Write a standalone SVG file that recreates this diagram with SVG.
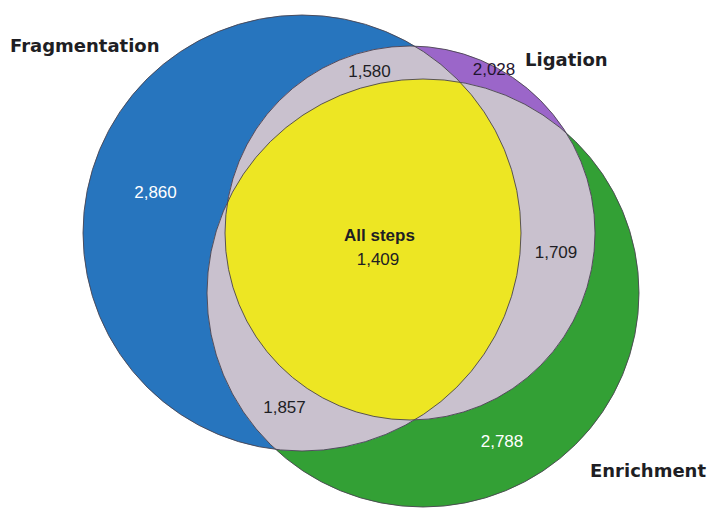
<svg xmlns="http://www.w3.org/2000/svg" width="708" height="510" viewBox="0 0 708 510">
<style>
.ol{fill:none;stroke:#4a4450;stroke-width:0.9}
.lab{font-family:"DejaVu Sans",sans-serif;font-weight:bold;font-size:18px;fill:#1e1e24}
.num{font-family:"Liberation Sans",Arial,sans-serif;font-size:17px;text-anchor:middle;fill:#1e1e24}
.w{fill:#ffffff}
.gray{fill:#c9c1ce}
</style>
<defs>
<clipPath id="cF"><ellipse cx="302" cy="233" rx="219" ry="218"/></clipPath>
<clipPath id="cL"><ellipse cx="410" cy="233" rx="185" ry="187"/></clipPath>
<clipPath id="cE"><ellipse cx="423" cy="293" rx="216" ry="214"/></clipPath>
</defs>
<rect width="708" height="510" fill="#ffffff"/>
<g id="enrichment"><ellipse cx="423" cy="293" rx="216" ry="214" fill="#33a035"/></g>
<g id="fragmentation"><ellipse cx="302" cy="233" rx="219" ry="218" fill="#2775be"/></g>
<g id="ligation"><ellipse cx="410" cy="233" rx="185" ry="187" fill="#9b66c9"/></g>
<g id="overlaps">
<ellipse class="gray" cx="410" cy="233" rx="185" ry="187" clip-path="url(#cF)"/>
<ellipse class="gray" cx="410" cy="233" rx="185" ry="187" clip-path="url(#cE)"/>
<ellipse class="gray" cx="423" cy="293" rx="216" ry="214" clip-path="url(#cF)"/>
<g clip-path="url(#cF)"><g clip-path="url(#cE)"><ellipse cx="410" cy="233" rx="185" ry="187" fill="#ede623"/></g></g>
</g>
<g id="outlines">
<ellipse class="ol" cx="302" cy="233" rx="219" ry="218"/>
<ellipse class="ol" cx="410" cy="233" rx="185" ry="187"/>
<ellipse class="ol" cx="423" cy="293" rx="216" ry="214"/>
</g>
<g id="labels">
<text class="lab" x="10" y="52">Fragmentation</text>
<text class="lab" x="525" y="66">Ligation</text>
<text class="lab" x="590" y="477">Enrichment</text>
<text class="num w" x="155.5" y="198">2,860</text>
<text class="num" x="369.5" y="77">1,580</text>
<text class="num" x="494" y="75" style="fill:#1f1530">2,028</text>
<text class="num" x="556" y="258">1,709</text>
<text class="num" x="284.5" y="413">1,857</text>
<text class="num w" x="502" y="447">2,788</text>
<text class="num" x="379.5" y="241" style="font-weight:bold">All steps</text>
<text class="num" x="378" y="265">1,409</text>
</g>
</svg>
